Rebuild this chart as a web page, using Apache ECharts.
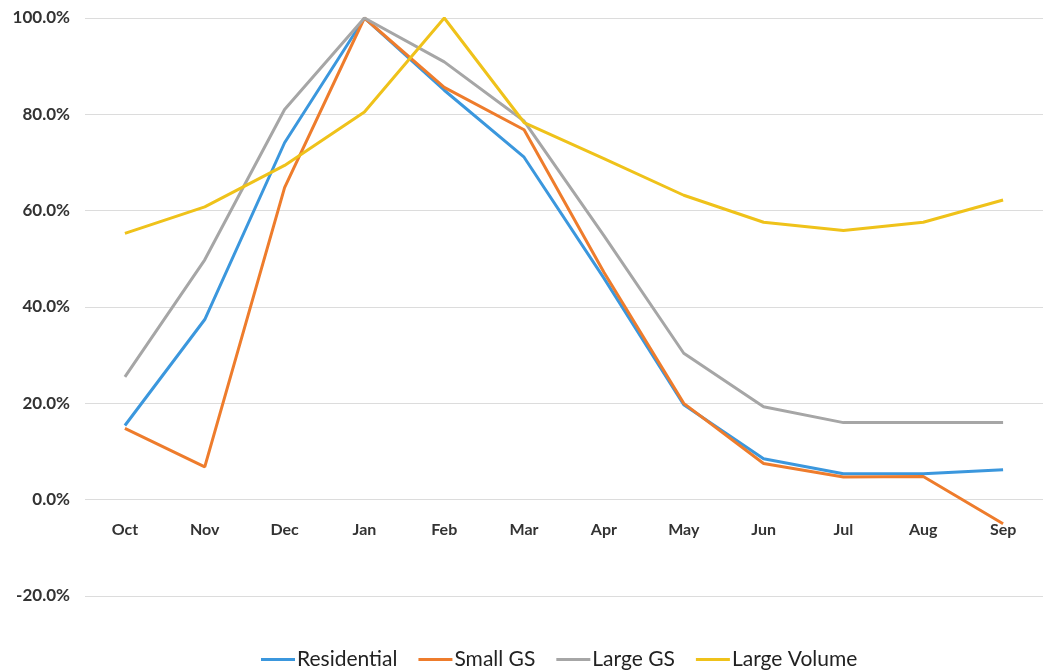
<!DOCTYPE html>
<html>
<head>
<meta charset="utf-8">
<script src="https://cdn.jsdelivr.net/npm/echarts@6/dist/echarts.min.js"></script>
<style>
  html, body { margin: 0; padding: 0; background: #ffffff; }
  #chart { width: 1047px; height: 672px; }
</style>
</head>
<body>
<div id="chart"></div>
<script>
// Months of the fiscal year, October through September
const months = ['Oct', 'Nov', 'Dec', 'Jan', 'Feb', 'Mar', 'Apr', 'May', 'Jun', 'Jul', 'Aug', 'Sep'];

// Monthly load as a percentage of the peak month, per customer class
const residential = [15.4, 37.4, 74.1, 100, 85.0, 71.1, 46.0, 19.7, 8.5, 5.4, 5.4, 6.2];
const smallGS     = [14.8, 6.8, 64.8, 100, 85.6, 76.8, 47.2, 20.0, 7.5, 4.7, 4.8, -5.0];
const largeGS     = [25.5, 49.8, 81.0, 100, 90.9, 78.6, 54.8, 30.4, 19.3, 16.0, 16.0, 16.0];
const largeVolume = [55.3, 60.8, 69.4, 80.5, 100, 78.3, 70.8, 63.2, 57.6, 55.9, 57.6, 62.2];

const seriesNames = ['Residential', 'Small GS', 'Large GS', 'Large Volume'];
const seriesColors = ['#3b97dd', '#ee7c2c', '#a6a6a6', '#efc21a'];
const seriesData = [residential, smallGS, largeGS, largeVolume];

// Y-axis ticks from -20% to 100%
const yMin = -20, yMax = 100, yStep = 20;

const gridTop = 18, gridBottom = 76;
const chartHeight = 672;

const chart = echarts.init(document.getElementById('chart'), null, { renderer: 'canvas' });

// Month labels sit just under the 0% line: shift the category axis up from the grid's bottom edge
const plotHeight = chartHeight - gridTop - gridBottom;
const zeroShift = plotHeight * (0 - yMin) / (yMax - yMin);

chart.setOption({
  animation: false,
  backgroundColor: '#ffffff',
  grid: { left: 85, right: 4, top: gridTop, bottom: gridBottom },
  legend: {
    top: 644,
    left: 256,
    itemWidth: 34,
    itemHeight: 3,
    itemGap: 21,
    icon: 'rect',
    textStyle: { fontFamily: 'Lato', fontSize: 21, color: '#222', padding: [0, 0, 0, -3] },
    data: seriesNames
  },
  xAxis: {
    type: 'category',
    data: months,
    boundaryGap: true,
    offset: -zeroShift,
    axisLine: { show: false, onZero: false },
    axisTick: { show: false },
    axisLabel: {
      fontFamily: 'Lato', fontSize: 16, fontWeight: 'bold', color: '#333',
      margin: 22
    }
  },
  yAxis: {
    type: 'value',
    min: yMin,
    max: yMax,
    interval: yStep,
    axisLine: { show: false },
    axisTick: { show: false },
    splitLine: { lineStyle: { color: '#dcdcdc', width: 1 } },
    axisLabel: {
      fontFamily: 'Lato', fontSize: 17, fontWeight: 'bold', color: '#333',
      margin: 15,
      formatter: v => v.toFixed(1) + '%'
    }
  },
  series: seriesNames.map((name, i) => ({
    name: name,
    type: 'line',
    data: seriesData[i],
    symbol: 'none',
    smooth: false,
    color: seriesColors[i],
    lineStyle: { width: 3, color: seriesColors[i] }
  }))
});
</script>
</body>
</html>
